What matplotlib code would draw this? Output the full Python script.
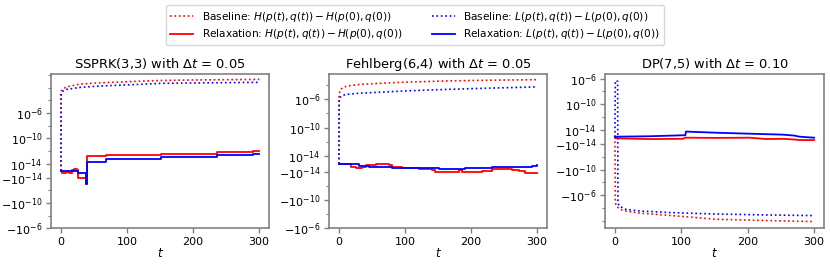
import matplotlib
matplotlib.use("Agg")
import matplotlib.pyplot as plt
import numpy as np

# ---------------- data ----------------
titles = [r"SSPRK(3,3) with $\Delta t$ = 0.05",
          r"Fehlberg(6,4) with $\Delta t$ = 0.05",
          r"DP(7,5) with $\Delta t$ = 0.10"]
xticks = [0, 100, 200, 300]
yticks_major = [-1e-6, -1e-10, -1e-14, 1e-14, 1e-10, 1e-6]
yticks_minor = [-1e0, -1e-2, -1e-4, -1e-8, -1e-12, 1e-12, 1e-8, 1e-4, 1e-2, 1e0]

# Panel 1: SSPRK(3,3)
t1_base = [0, 0.3, 3, 9, 29, 59, 120, 150, 200, 300]
H1_base = [0, 2.9e-3, 7e-3, 0.014, 0.039, 0.06, 0.11, 0.14, 0.17, 0.21]
L1_base = [0, 1.3e-3, 3e-3, 5.6e-3, 0.0115, 0.019, 0.035, 0.049, 0.057, 0.072]
t1_relH = [0, 2, 8, 12, 17, 20, 24, 26.6, 38, 39, 67.5, 152, 236, 291, 300]
H1_rel = [0, -3e-15, -2e-15, -3e-15, 1e-15, 2e-15, 0.5e-15, -1.15e-14, -9e-14,
          1.4e-13, 2.3e-13, 3.9e-13, 6e-13, 9e-13, 9e-13]
t1_relL = [0, 5, 26.6, 38, 39, 67.5, 152, 236, 291, 300]
L1_rel = [0, -1e-15, -4e-15, -1.1e-13, 1.6e-14, 6e-14, 1.1e-13, 2e-13, 3e-13, 3e-13]

# Panel 2: Fehlberg(6,4)
t2_base = [0, 0.3, 2, 5, 12.6, 30, 63, 100, 164, 230, 300]
H2_base = [0, 5e-6, 2e-5, 4e-5, 7.6e-5, 1.2e-4, 1.8e-4, 2.6e-4, 3.9e-4, 4.9e-4, 5.9e-4]
L2_base = [0, 5.7e-7, 2e-6, 3.5e-6, 5e-6, 7e-6, 1e-5, 1.5e-5, 2.5e-5, 3.8e-5, 5.5e-5]
t2_relL = [0, 15, 30.3, 45.4, 60.5, 80.6, 105.8, 131, 151, 171.3, 191.5, 211.6,
           231.8, 252, 272, 292.3, 300]
L2_rel = [0, -6e-16, -2.8e-15, -3.6e-15, -4.5e-15, -5e-15, -5e-15, -5.4e-15, -6.6e-15,
          -6.2e-15, -5.8e-15, -5.4e-15, -3.6e-15, -4e-15, -3.6e-15, -2.8e-15, -1.5e-15]
t2_relH = [0, 10, 17.6, 25.2, 35.3, 40.3, 55.5, 70.6, 75.6, 80.6, 95.8, 110.9, 121,
           131, 141.2, 146.2, 161.3, 176.4, 181.5, 186.5, 201.6, 216.8, 231.8, 247,
           262, 272, 282.2, 300]
H2_rel = [0, -6e-16, -3.6e-15, -5e-15, -3.6e-15, -1.5e-15, -6e-16, -3e-16, -1.9e-15,
          -3.6e-15, -5.4e-15, -5e-15, -7e-15, -7e-15, -7.9e-15, -1.12e-14, -1.26e-14,
          -1e-14, -7.9e-15, -1.12e-14, -1e-14, -8.7e-15, -7e-15, -7e-15, -7.9e-15,
          -9.5e-15, -1.4e-14, -1.4e-14]

# Panel 3: DP(7,5)
t3_baseH = [0, 0.5, 2.5, 12, 36, 86, 152, 230, 300]
H3_base = [0, -1.5e-5, -6e-5, -2.5e-4, -6e-4, -1.5e-3, -5.6e-3, -9e-3, -1.3e-2]
t3_baseL = [0, 0.5, 1, 4, 4.5, 6.5, 15.7, 36, 86, 152, 230, 300]
L3_base = [0, 3e-7, 5e-7, 4e-7, -1.8e-5, -4.7e-5, -1.5e-4, -2.8e-4, -5.2e-4,
           -8.5e-4, -1.2e-3, -1.5e-3]
t3_relL = [0, 1.4, 51.7, 102, 106, 107, 152.5, 203, 253, 270, 278, 300]
L3_rel = [0, 4e-16, 1e-15, 2.4e-15, 2.4e-15, 7.6e-15, 6e-15, 4.6e-15, 3.3e-15,
          2e-15, 4e-16, -1e-15]
t3_relH = [0, 1.4, 51.7, 102, 106, 152.5, 203, 228, 253, 270, 278, 300]
H3_rel = [0, -1.9e-15, -2.9e-15, -2.6e-15, -1e-15, -1.3e-15, -1e-15, -2.9e-15,
          -2.6e-15, -3.5e-15, -4.3e-15, -4.3e-15]

ylims = [(-1e-6, 1.5), (-1e-6, 3.7e-3), (-0.145, 5.4e-6)]

# ---------------- plotting ----------------
W, H = 830, 264
fig = plt.figure(figsize=(W / 100, H / 100), dpi=100)
positions = [(51, 74, 218, 154.3), (329, 74, 218, 154.3), (605, 74, 219, 154.3)]

panels = [
    (t1_base, H1_base, t1_base, L1_base, t1_relH, H1_rel, t1_relL, L1_rel, "steps-post"),
    (t2_base, H2_base, t2_base, L2_base, t2_relH, H2_rel, t2_relL, L2_rel, "steps-post"),
    (t3_baseH, H3_base, t3_baseL, L3_base, t3_relH, H3_rel, t3_relL, L3_rel, "default"),
]

handles = None
for i, (pos, data) in enumerate(zip(positions, panels)):
    x0, y0, w, h = pos
    ax = fig.add_axes([x0 / W, 1 - (y0 + h) / H, w / W, h / H])
    tbH, vbH, tbL, vbL, trH, vrH, trL, vrL, ds = data
    l1, = ax.plot(tbH, vbH, ':', color='red', lw=1.2,
                  label=r"Baseline: $H(p(t), q(t)) - H(p(0), q(0))$")
    l2, = ax.plot(trH, vrH, '-', color='red', lw=1.3, drawstyle=ds,
                  label=r"Relaxation: $H(p(t), q(t)) - H(p(0), q(0))$")
    l3, = ax.plot(tbL, vbL, ':', color='blue', lw=1.2,
                  label=r"Baseline: $L(p(t), q(t)) - L(p(0), q(0))$")
    l4, = ax.plot(trL, vrL, '-', color='blue', lw=1.3, drawstyle=ds,
                  label=r"Relaxation: $L(p(t), q(t)) - L(p(0), q(0))$")
    if handles is None:
        handles = [l1, l2, l3, l4]
    ax.set_yscale('symlog', linthresh=1e-14, linscale=1)
    ax.set_ylim(*ylims[i])
    ax.set_xlim(-15, 315)
    ax.set_xticks(xticks)
    ax.set_yticks(yticks_major)
    lo, hi = ylims[i]
    ax.set_yticks([v for v in yticks_minor if lo <= v <= hi], minor=True)
    ax.yaxis.set_minor_formatter(matplotlib.ticker.NullFormatter())
    ax.tick_params(labelsize=8, colors='#808080', labelcolor='black', length=3.5,
                   width=1, pad=2.5)
    ax.tick_params(which='minor', colors='#808080', length=2, width=0.8)
    for s in ax.spines.values():
        s.set_color('#808080')
        s.set_linewidth(1.2)
    ax.set_title(titles[i], fontsize=9.4, pad=4)
    ax.set_xlabel(r"$t$", fontsize=8.5, labelpad=0)

fig.legend(handles, [h.get_label() for h in handles], loc='upper center',
           bbox_to_anchor=(0.5, 1.0), ncol=2, fontsize=7.6, frameon=True,
           columnspacing=2.8, handlelength=2.2, borderpad=0.4, labelspacing=0.35,
           handletextpad=0.8)

fig.savefig("out.png", dpi=100)
